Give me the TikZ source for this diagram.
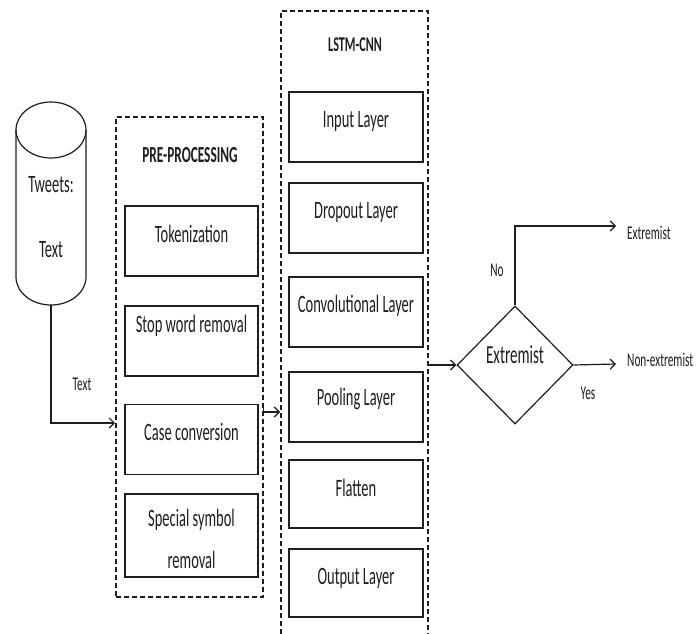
\documentclass[tikz,border=0pt]{standalone}
\usepackage{fontspec}
\setmainfont{Carlito}[FakeStretch=0.58]
\usetikzlibrary{arrows.meta,shapes.geometric}
\definecolor{ink}{HTML}{1E1E1E}
\tikzset{
  box/.style={draw=ink,line width=1.2pt,minimum width=133pt,minimum height=70pt,inner sep=0pt},
  dashbox/.style={draw=ink,line width=1.1pt,dash pattern=on 5pt off 3pt},
  txt/.style={text=ink,font=\fontsize{25}{30}\selectfont,inner sep=0pt},
  small/.style={text=ink,font=\fontsize{19.5}{24}\selectfont,inner sep=0pt},
  ttl/.style={text=ink,font=\bfseries\fontsize{23}{28}\selectfont,inner sep=0pt},
  conn/.style={draw=ink,line width=1.2pt},
  arr/.style={conn,-{Straight Barb[length=5pt,width=10pt,line width=1.2pt]}},
}
\begin{document}
\begin{tikzpicture}[x=1pt,y=-1pt]
\useasboundingbox (0,0) rectangle (697,634);
\fill[white] (0,0) rectangle (697,634);
% cylinder
\draw[conn] (51,130) ellipse [x radius=35pt,y radius=28pt];
\draw[conn] (16,130) -- (16,277) arc[start angle=180,end angle=360,x radius=35pt,y radius=28pt] -- (86,130);
\node[txt] (tw) at (51,185) {Tweets:};
\node[txt] (tx) at (51,250) {Text};
\coordinate (cylb) at (51,305);
% pre-processing
\node[dashbox,minimum width=147pt,minimum height=480pt] (pre) at (189.5,357) {};
\node[ttl] (pret) at (190,155) {PRE-PROCESSING};
\node[box] (tok) at (191.5,241) {};
\node[box] (stop) at (191.5,341) {};
\node[box] (case) at (191.5,439.5) {};
\node[box,minimum height=83pt] (spec) at (191.5,535.5) {};
\node[txt] at (191.5,234) {Tokenization};
\node[txt] at (191.5,326) {Stop word removal};
\node[txt] at (191.5,432) {Case conversion};
\node[txt,align=center,font=\fontsize{25}{42}\selectfont] at (191.5,539) {Special symbol\\removal};
% input connector
\coordinate (pin) at (115,423);
\draw[arr] (cylb) |- (pin);
\node[small] (tlab) at (82,384) {Text};
% lstm-cnn
\coordinate (la) at (281,634);
\coordinate (lb) at (281,11);
\coordinate (lc) at (428,11);
\coordinate (ld) at (428,634);
\draw[dashbox] (la) -- (lb) -- (lc) -- (ld);
\node[ttl,font=\bfseries\fontsize{21}{26}\selectfont] (lstmt) at (355,45) {LSTM-CNN};
\node[box,minimum width=134pt] (inp) at (356,127) {};
\node[box,minimum width=134pt] (drop) at (356,218) {};
\node[box,minimum width=134pt] (conv) at (356,312) {};
\node[box,minimum width=134pt] (pool) at (356,407) {};
\node[box,minimum width=134pt,minimum height=68pt] (flat) at (356,494) {};
\node[box,minimum width=134pt,minimum height=68pt] (outl) at (356,583) {};
\node[txt] at (356,121) {Input Layer};
\node[txt] at (356,212) {Dropout Layer};
\node[txt] at (356,306) {Convolutional Layer};
\node[txt] at (356,399) {Pooling Layer};
\node[txt] at (356,488) {Flatten};
\node[txt] at (356,578) {Output Layer};
% pre -> lstm
\coordinate (pa) at (263.5,404);
\coordinate (pb) at (280,412);
\draw[arr] (pa) |- (pb);
% lstm -> diamond
\node[draw=ink,line width=1.2pt,diamond,minimum width=116pt,minimum height=118pt,inner sep=0pt] (dec) at (515,365) {};
\node[txt,font=\fontsize{26}{30}\selectfont] at (515,355) {Extremist};
\coordinate (lo) at (428,365);
\draw[arr] (lo) -- (dec.west);
% outputs
\coordinate (ex) at (616,226);
\coordinate (nx) at (616,364);
\draw[arr] (dec.north) |- (ex);
\draw[arr] (dec.east) -- (nx);
\node[small,anchor=west] (exl) at (627,233) {Extremist};
\node[small,anchor=west] (nxl) at (627,360) {Non-extremist};
\node[small] (nol) at (497,270) {No};
\node[small] (yesl) at (588,393) {Yes};
\end{tikzpicture}
\end{document}
